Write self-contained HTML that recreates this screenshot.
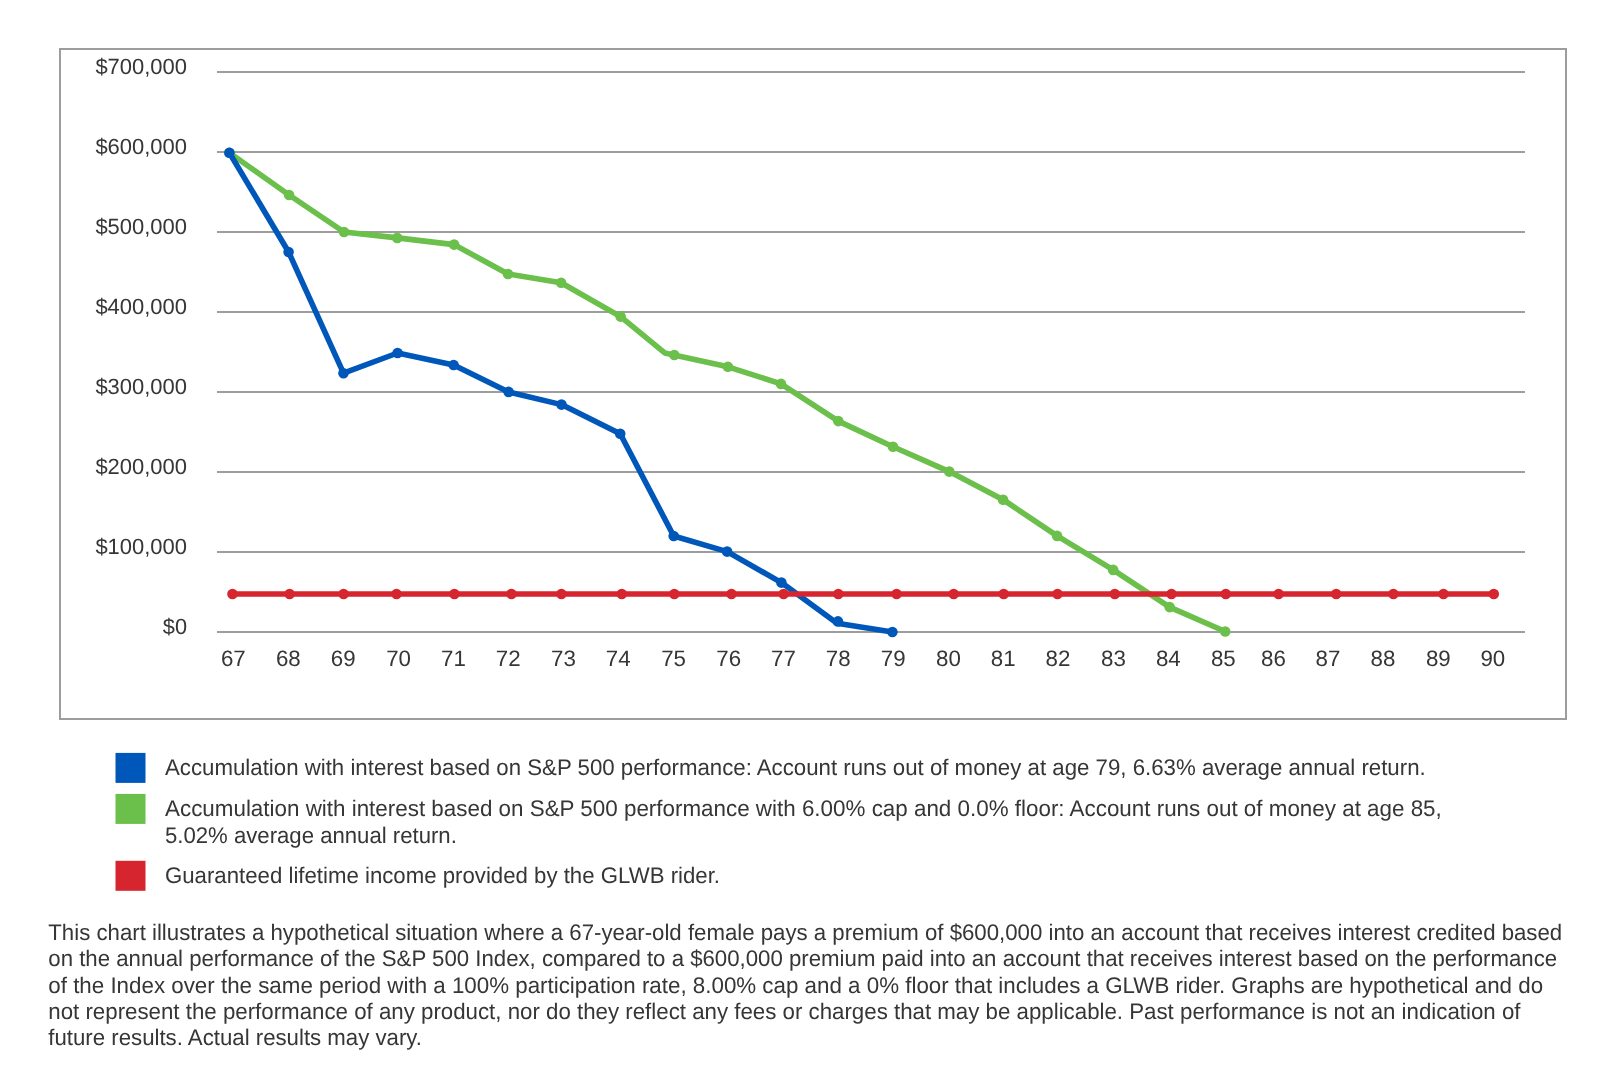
<!DOCTYPE html>
<html><head><meta charset="utf-8"><style>
html,body{margin:0;padding:0;background:#fff;}
svg{display:block;will-change:transform;}
text{text-rendering:geometricPrecision;font-family:"Liberation Sans",sans-serif;font-size:22.8px;fill:#363636;}
</style></head><body>
<svg width="1618" height="1091" viewBox="0 0 1618 1091">
<rect width="1618" height="1091" fill="#fff"/>
<rect x="60" y="49" width="1506" height="670" fill="none" stroke="#9d9d9d" stroke-width="2"/>
<line x1="217" y1="72" x2="1525" y2="72" stroke="#9d9d9d" stroke-width="1.8"/>
<line x1="217" y1="152" x2="1525" y2="152" stroke="#9d9d9d" stroke-width="1.8"/>
<line x1="217" y1="232" x2="1525" y2="232" stroke="#9d9d9d" stroke-width="1.8"/>
<line x1="217" y1="312" x2="1525" y2="312" stroke="#9d9d9d" stroke-width="1.8"/>
<line x1="217" y1="392" x2="1525" y2="392" stroke="#9d9d9d" stroke-width="1.8"/>
<line x1="217" y1="472" x2="1525" y2="472" stroke="#9d9d9d" stroke-width="1.8"/>
<line x1="217" y1="552" x2="1525" y2="552" stroke="#9d9d9d" stroke-width="1.8"/>
<line x1="217" y1="632" x2="1525" y2="632" stroke="#9d9d9d" stroke-width="1.8"/>
<text x="187.0" y="74.3" text-anchor="end" textLength="91.6" lengthAdjust="spacingAndGlyphs" style="font-size:22px">$700,000</text>
<text x="187.0" y="154.3" text-anchor="end" textLength="91.6" lengthAdjust="spacingAndGlyphs" style="font-size:22px">$600,000</text>
<text x="187.0" y="234.3" text-anchor="end" textLength="91.6" lengthAdjust="spacingAndGlyphs" style="font-size:22px">$500,000</text>
<text x="187.0" y="314.3" text-anchor="end" textLength="91.6" lengthAdjust="spacingAndGlyphs" style="font-size:22px">$400,000</text>
<text x="187.0" y="394.3" text-anchor="end" textLength="91.6" lengthAdjust="spacingAndGlyphs" style="font-size:22px">$300,000</text>
<text x="187.0" y="474.3" text-anchor="end" textLength="91.6" lengthAdjust="spacingAndGlyphs" style="font-size:22px">$200,000</text>
<text x="187.0" y="554.3" text-anchor="end" textLength="91.6" lengthAdjust="spacingAndGlyphs" style="font-size:22px">$100,000</text>
<text x="187.0" y="634.3" text-anchor="end" textLength="24.2" lengthAdjust="spacingAndGlyphs" style="font-size:22px">$0</text>
<text x="233.3" y="665.9" text-anchor="middle" style="font-size:22.3px">67</text>
<text x="288.3" y="665.9" text-anchor="middle" style="font-size:22.3px">68</text>
<text x="343.2" y="665.9" text-anchor="middle" style="font-size:22.3px">69</text>
<text x="398.6" y="665.9" text-anchor="middle" style="font-size:22.3px">70</text>
<text x="453.5" y="665.9" text-anchor="middle" style="font-size:22.3px">71</text>
<text x="508.2" y="665.9" text-anchor="middle" style="font-size:22.3px">72</text>
<text x="563.4" y="665.9" text-anchor="middle" style="font-size:22.3px">73</text>
<text x="618.2" y="665.9" text-anchor="middle" style="font-size:22.3px">74</text>
<text x="673.6" y="665.9" text-anchor="middle" style="font-size:22.3px">75</text>
<text x="728.7" y="665.9" text-anchor="middle" style="font-size:22.3px">76</text>
<text x="783.4" y="665.9" text-anchor="middle" style="font-size:22.3px">77</text>
<text x="838.2" y="665.9" text-anchor="middle" style="font-size:22.3px">78</text>
<text x="893.2" y="665.9" text-anchor="middle" style="font-size:22.3px">79</text>
<text x="948.4" y="665.9" text-anchor="middle" style="font-size:22.3px">80</text>
<text x="1003.2" y="665.9" text-anchor="middle" style="font-size:22.3px">81</text>
<text x="1058" y="665.9" text-anchor="middle" style="font-size:22.3px">82</text>
<text x="1113.5" y="665.9" text-anchor="middle" style="font-size:22.3px">83</text>
<text x="1168.3" y="665.9" text-anchor="middle" style="font-size:22.3px">84</text>
<text x="1223.3" y="665.9" text-anchor="middle" style="font-size:22.3px">85</text>
<text x="1273.4" y="665.9" text-anchor="middle" style="font-size:22.3px">86</text>
<text x="1327.9" y="665.9" text-anchor="middle" style="font-size:22.3px">87</text>
<text x="1383" y="665.9" text-anchor="middle" style="font-size:22.3px">88</text>
<text x="1438.3" y="665.9" text-anchor="middle" style="font-size:22.3px">89</text>
<text x="1492.8" y="665.9" text-anchor="middle" style="font-size:22.3px">90</text>
<polyline points="229.4,152.8 289.1,195 344,232 397.2,237.9 454.1,244.6 508,274 561.1,282.8 620.6,316.6 664.7,352.9 727.9,366.8 781,383.9 838.3,421.1 893,446.8 949.3,471.6 1003.1,499.7 1057.1,535.9 1113.2,569.9 1169.6,607.1 1225.2,631.5" fill="none" stroke="#6bbf4b" stroke-width="5.6" stroke-linejoin="round" stroke-linecap="round"/>
<circle cx="229.4" cy="152.8" r="5.3" fill="#6bbf4b"/>
<circle cx="289.1" cy="195" r="5.3" fill="#6bbf4b"/>
<circle cx="344" cy="232" r="5.3" fill="#6bbf4b"/>
<circle cx="397.2" cy="237.9" r="5.3" fill="#6bbf4b"/>
<circle cx="454.1" cy="244.6" r="5.3" fill="#6bbf4b"/>
<circle cx="508" cy="274" r="5.3" fill="#6bbf4b"/>
<circle cx="561.1" cy="282.8" r="5.3" fill="#6bbf4b"/>
<circle cx="620.6" cy="316.6" r="5.3" fill="#6bbf4b"/>
<circle cx="674.3" cy="355" r="5.3" fill="#6bbf4b"/>
<circle cx="727.9" cy="366.8" r="5.3" fill="#6bbf4b"/>
<circle cx="781" cy="383.9" r="5.3" fill="#6bbf4b"/>
<circle cx="838.3" cy="421.1" r="5.3" fill="#6bbf4b"/>
<circle cx="893" cy="446.8" r="5.3" fill="#6bbf4b"/>
<circle cx="949.3" cy="471.6" r="5.3" fill="#6bbf4b"/>
<circle cx="1003.1" cy="499.7" r="5.3" fill="#6bbf4b"/>
<circle cx="1057.1" cy="535.9" r="5.3" fill="#6bbf4b"/>
<circle cx="1113.2" cy="569.9" r="5.3" fill="#6bbf4b"/>
<circle cx="1169.6" cy="607.1" r="5.3" fill="#6bbf4b"/>
<circle cx="1225.2" cy="631.5" r="5.3" fill="#6bbf4b"/>
<polyline points="229.4,152.8 288.6,252 343.5,373.2 397.6,353.0 453.6,365.0 508.6,391.9 561.5,404.6 620.2,433.8 673.7,536 727.1,551.6 781.4,582.6 837.0,623.2 892.4,632.0" fill="none" stroke="#0057ba" stroke-width="5.6" stroke-linejoin="round" stroke-linecap="round"/>
<circle cx="229.4" cy="152.8" r="5.3" fill="#0057ba"/>
<circle cx="288.6" cy="252" r="5.3" fill="#0057ba"/>
<circle cx="343.5" cy="373.2" r="5.3" fill="#0057ba"/>
<circle cx="397.6" cy="353.0" r="5.3" fill="#0057ba"/>
<circle cx="453.6" cy="365.0" r="5.3" fill="#0057ba"/>
<circle cx="508.6" cy="391.9" r="5.3" fill="#0057ba"/>
<circle cx="561.5" cy="404.6" r="5.3" fill="#0057ba"/>
<circle cx="620.2" cy="433.8" r="5.3" fill="#0057ba"/>
<circle cx="673.7" cy="536" r="5.3" fill="#0057ba"/>
<circle cx="727.1" cy="551.6" r="5.3" fill="#0057ba"/>
<circle cx="781.4" cy="582.6" r="5.3" fill="#0057ba"/>
<circle cx="838.0" cy="621.4" r="5.3" fill="#0057ba"/>
<circle cx="892.4" cy="632.0" r="5.3" fill="#0057ba"/>
<polyline points="232.5,594.0 289.6,594.0 343.6,594.0 396.5,594.0 454.4,594.0 511.5,594.0 561.4,594.0 621.8,594.0 674.3,594.0 731.5,594.0 783.6,594.0 838.3,594.0 896.6,594.0 953.7,594.0 1003.7,594.0 1057.5,594.0 1114.8,594.0 1171.5,594.0 1225.8,594.0 1278.6,594.0 1336.2,594.0 1393.4,594.0 1443.5,594.0 1493.8,594.0" fill="none" stroke="#d72530" stroke-width="5.6" stroke-linejoin="round" stroke-linecap="round"/>
<circle cx="232.5" cy="594.0" r="5.3" fill="#d72530"/>
<circle cx="289.6" cy="594.0" r="5.3" fill="#d72530"/>
<circle cx="343.6" cy="594.0" r="5.3" fill="#d72530"/>
<circle cx="396.5" cy="594.0" r="5.3" fill="#d72530"/>
<circle cx="454.4" cy="594.0" r="5.3" fill="#d72530"/>
<circle cx="511.5" cy="594.0" r="5.3" fill="#d72530"/>
<circle cx="561.4" cy="594.0" r="5.3" fill="#d72530"/>
<circle cx="621.8" cy="594.0" r="5.3" fill="#d72530"/>
<circle cx="674.3" cy="594.0" r="5.3" fill="#d72530"/>
<circle cx="731.5" cy="594.0" r="5.3" fill="#d72530"/>
<circle cx="783.6" cy="594.0" r="5.3" fill="#d72530"/>
<circle cx="838.3" cy="594.0" r="5.3" fill="#d72530"/>
<circle cx="896.6" cy="594.0" r="5.3" fill="#d72530"/>
<circle cx="953.7" cy="594.0" r="5.3" fill="#d72530"/>
<circle cx="1003.7" cy="594.0" r="5.3" fill="#d72530"/>
<circle cx="1057.5" cy="594.0" r="5.3" fill="#d72530"/>
<circle cx="1114.8" cy="594.0" r="5.3" fill="#d72530"/>
<circle cx="1171.5" cy="594.0" r="5.3" fill="#d72530"/>
<circle cx="1225.8" cy="594.0" r="5.3" fill="#d72530"/>
<circle cx="1278.6" cy="594.0" r="5.3" fill="#d72530"/>
<circle cx="1336.2" cy="594.0" r="5.3" fill="#d72530"/>
<circle cx="1393.4" cy="594.0" r="5.3" fill="#d72530"/>
<circle cx="1443.5" cy="594.0" r="5.3" fill="#d72530"/>
<circle cx="1493.8" cy="594.0" r="5.3" fill="#d72530"/>
<rect x="115.5" y="752.9" width="30" height="30" fill="#0057ba"/>
<rect x="115.5" y="793.9" width="30" height="30" fill="#6bbf4b"/>
<rect x="115.5" y="860.8" width="30" height="30" fill="#d72530"/>
<text x="165.0" y="774.6" textLength="1260.7" lengthAdjust="spacingAndGlyphs" style="font-size:22.6px">Accumulation with interest based on S&amp;P 500 performance: Account runs out of money at age 79, 6.63% average annual return.</text>
<text x="165.0" y="815.7" textLength="1276.8" lengthAdjust="spacingAndGlyphs" style="font-size:22.6px">Accumulation with interest based on S&amp;P 500 performance with 6.00% cap and 0.0% floor: Account runs out of money at age 85,</text>
<text x="165.0" y="842.6" textLength="291.8" lengthAdjust="spacingAndGlyphs" style="font-size:22.6px">5.02% average annual return.</text>
<text x="165.0" y="883.2" textLength="555.0" lengthAdjust="spacingAndGlyphs" style="font-size:22.6px">Guaranteed lifetime income provided by the GLWB rider.</text>
<text x="48.3" y="939.9" textLength="1513.9" lengthAdjust="spacingAndGlyphs" style="font-size:22.6px">This chart illustrates a hypothetical situation where a 67-year-old female pays a premium of $600,000 into an account that receives interest credited based</text>
<text x="48.3" y="966.1" textLength="1508.9" lengthAdjust="spacingAndGlyphs" style="font-size:22.6px">on the annual performance of the S&amp;P 500 Index, compared to a $600,000 premium paid into an account that receives interest based on the performance</text>
<text x="48.3" y="992.6" textLength="1494.8" lengthAdjust="spacingAndGlyphs" style="font-size:22.6px">of the Index over the same period with a 100% participation rate, 8.00% cap and a 0% floor that includes a GLWB rider. Graphs are hypothetical and do</text>
<text x="48.3" y="1018.9" textLength="1472.2" lengthAdjust="spacingAndGlyphs" style="font-size:22.6px">not represent the performance of any product, nor do they reflect any fees or charges that may be applicable. Past performance is not an indication of</text>
<text x="48.3" y="1045.0" textLength="373.7" lengthAdjust="spacingAndGlyphs" style="font-size:22.6px">future results. Actual results may vary.</text>
</svg>
</body></html>
